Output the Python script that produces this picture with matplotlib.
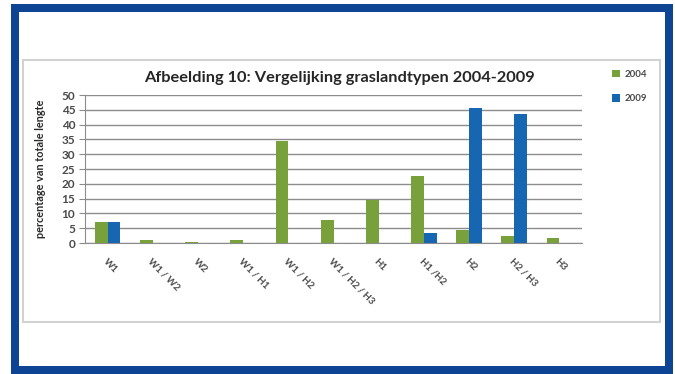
import numpy as np
import matplotlib
matplotlib.use("Agg")
import matplotlib.pyplot as plt
from matplotlib.patches import Rectangle

# graslandtypen en aandeel (% van totale lengte) per jaar
categorieen = ["W1", "W1 / W2", "W2", "W1 / H1", "W1 / H2", "W1 / H2 / H3",
               "H1", "H1 /H2", "H2", "H2 / H3", "H3"]
jaar_2004 = [7.0, 1.0, 0.4, 1.0, 34.5, 7.8, 14.5, 22.8, 4.5, 2.2, 1.8]
jaar_2009 = [7.0, 0.0, 0.0, 0.0, 0.0, 0.0, 0.0, 3.5, 45.5, 43.5, 0.0]
jaren = ["2004", "2009"]
yticks = list(range(0, 55, 5))

GROEN = "#78a13c"
BLAUW = "#1766b1"
KADER = "#0d4594"
TEKST = "#4a4a4a"

W, H = 675, 374
fig = plt.figure(figsize=(W / 100, H / 100), dpi=100)
fig.patch.set_facecolor("white")


def px(x0, y0, x1, y1):
    return [x0 / W, 1 - y1 / H, (x1 - x0) / W, (y1 - y0) / H]


# blauwe rand rondom
lw_kader = 8 * 72 / 100
fig.patches.append(Rectangle((15 / W, 1 - 370 / H), (669 - 15) / W, (370 - 8) / H,
                             transform=fig.transFigure, fill=False,
                             edgecolor=KADER, linewidth=lw_kader))
# grijze kader om de grafiek
fig.patches.append(Rectangle((23 / W, 1 - 322 / H), (660 - 23) / W, (322 - 60) / H,
                             transform=fig.transFigure, fill=False,
                             edgecolor="#d2d2d2", linewidth=1.5))

ax = fig.add_axes(px(85, 95, 582, 243))
x = np.arange(len(categorieen))
b = 0.283
ax.bar(x - b / 2, jaar_2004, width=b, color=GROEN, label=jaren[0], zorder=3)
ax.bar(x + b / 2, jaar_2009, width=b, color=BLAUW, label=jaren[1], zorder=3)

ax.set_xlim(-0.5, len(categorieen) - 0.5)
ax.set_ylim(0, 50)
ax.set_yticks(yticks)
ax.set_yticklabels([str(v) for v in yticks], fontsize=8.5, color=TEKST,
                   family="Lato", fontweight="bold")
ax.grid(axis="y", color="#8c8c8c", linewidth=1.0, zorder=0)
ax.tick_params(axis="y", length=4, color="#8c8c8c", pad=3)
ax.set_xticks(x)
ax.set_xticklabels(categorieen, rotation=-45, ha="left", va="top",
                   rotation_mode="anchor", fontsize=7, color=TEKST,
                   family="Lato", fontweight="bold")
ax.tick_params(axis="x", length=0, pad=10)
for s in ("top", "right"):
    ax.spines[s].set_visible(False)
ax.spines["left"].set_color("#8c8c8c")
ax.spines["bottom"].set_color("#8c8c8c")
ax.set_ylabel("percentage van totale lengte", fontsize=7.8, color="#2a2a2a",
              family="Lato", fontweight="bold", labelpad=5)
ax.yaxis.set_label_coords((46 - 85) / 497, 0.5)

fig.text(339 / W, 1 - 78 / H, "Afbeelding 10: Vergelijking graslandtypen 2004-2009",
         ha="center", va="center", fontsize=11.8, fontweight="bold",
         family="Lato", color="#262626")

ax.legend(loc="upper left", bbox_to_anchor=(603 / W, 1 - 61 / H),
          bbox_transform=fig.transFigure, frameon=False,
          prop={"family": "Lato", "weight": "bold", "size": 7},
          labelcolor=TEKST, handlelength=0.8, handleheight=0.8,
          handletextpad=0.5, labelspacing=1.6)

fig.savefig("out.png", dpi=100)
